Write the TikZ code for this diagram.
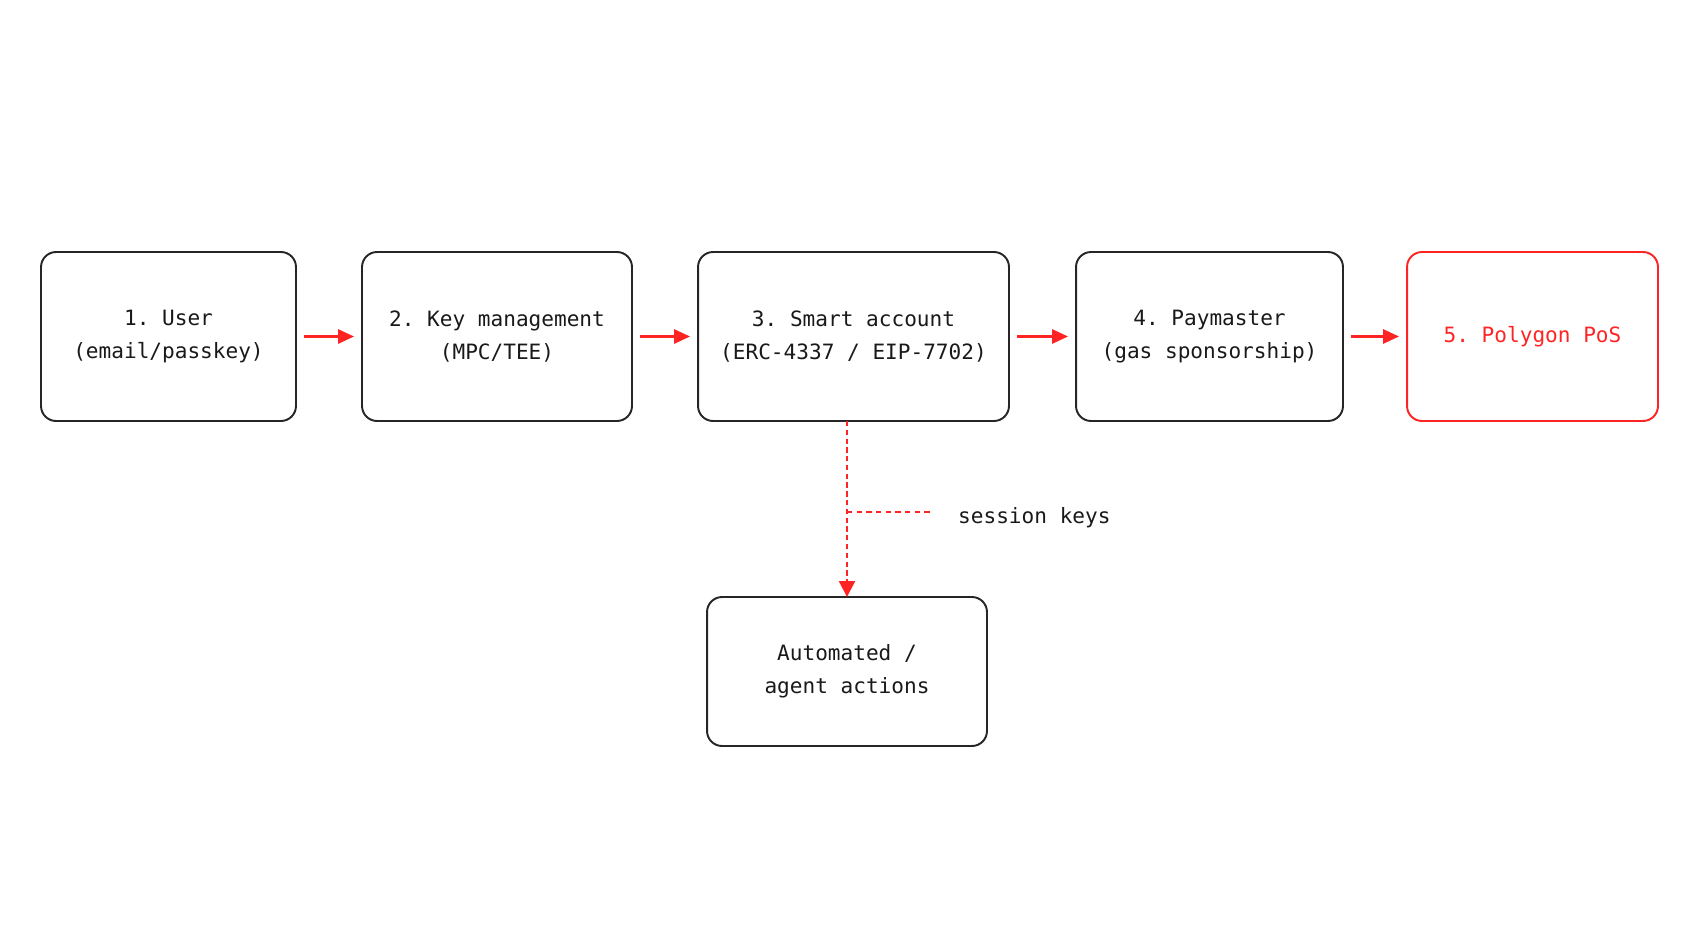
\documentclass[tikz,border=0pt]{standalone}
\usepackage{fontspec}
\setmonofont{DejaVu Sans Mono}
\usetikzlibrary{arrows.meta}
\definecolor{polyred}{HTML}{FF2424}
\tikzset{
  stage/.style={draw=black!85, line width=1.1pt, rounded corners=0.3cm, align=center,
    font=\ttfamily\fontsize{12}{18.5}\selectfont, text=black!90, inner sep=0pt,
    execute at begin node=\vspace*{6pt}},
  flow/.style={-{Triangle[length=9pt,width=8pt]}, polyred, line width=1.3pt, shorten <=4pt, shorten >=4pt},
}
\begin{document}
\begin{tikzpicture}[x=0.02cm, y=-0.02cm]
\useasboundingbox (0,0) rectangle (1693,929);
% boxes
\node[stage, minimum width=5.1cm, minimum height=3.38cm] (user) at (168.5,336.5) {1. User\\(email/passkey)};
\node[stage, minimum width=5.4cm, minimum height=3.38cm] (keys) at (497,336.5) {2. Key management\\(MPC/TEE)};
\node[stage, minimum width=6.22cm, minimum height=3.38cm] (smart) at (853.5,336.5) {3. Smart account\\(ERC-4337 / EIP-7702)};
\node[stage, minimum width=5.34cm, minimum height=3.38cm] (pay) at (1209.5,336.5) {4. Paymaster\\(gas sponsorship)};
\node[stage, draw=polyred, text=polyred, minimum width=5.02cm, minimum height=3.38cm] (pos) at (1532.5,336.5) {5. Polygon PoS};
\node[stage, minimum width=5.6cm, minimum height=2.98cm] (agent) at (847,671.5) {Automated /\\agent actions};
% flow
\draw[flow] (user) -- (keys);
\draw[flow] (keys) -- (smart);
\draw[flow] (smart) -- (pay);
\draw[flow] (pay) -- (pos);
% session keys branch
\coordinate (top) at (847,421);
\coordinate (bot) at (847,597);
\coordinate (tap) at (847,512);
\coordinate (tip) at (932,512);
\draw[polyred, line width=1.3pt, dash pattern=on 3pt off 2pt, -{Triangle[length=9pt,width=9pt]}] (top) -- (bot);
\draw[polyred, line width=0.9pt, dash pattern=on 3pt off 2.5pt] (tap) -- (tip);
\node[font=\ttfamily\fontsize{12}{14}\selectfont, text=black!90, anchor=west] (label) at (952,518) {session keys};
\end{tikzpicture}
\end{document}
